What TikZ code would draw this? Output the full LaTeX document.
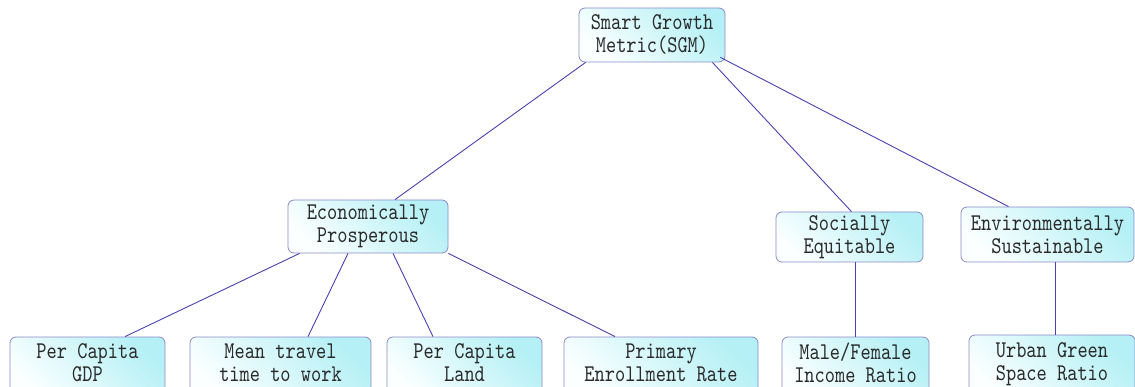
\documentclass[tikz,border=0pt]{standalone}
\usepackage{fontspec}
\newfontfamily\boxfont[FakeStretch=0.81]{lmmono10-regular.otf}
\usetikzlibrary{calc}
\definecolor{boxline}{HTML}{8A8AC8}
\definecolor{conn}{HTML}{4A42B0}
\definecolor{txt}{HTML}{2A2A2A}
\definecolor{cyanA}{HTML}{FBFFFF}
\definecolor{cyanB}{HTML}{B4F0F5}
\newcommand\lowstrut{\rule[-9pt]{0pt}{9pt}}
\tikzset{
  box/.style={draw=boxline, line width=0.8pt, rounded corners=6pt,
    top color=cyanA, bottom color=cyanB, shading angle=135,
    align=center, text=txt, inner sep=0pt,
    font=\boxfont\fontsize{24}{23}\selectfont},
  conn/.style={draw=conn, line width=0.9pt}
}
\begin{document}
\begin{tikzpicture}[x=1pt,y=-1pt]
\path[use as bounding box, clip] (0,0) rectangle (1135,387);
\fill[white] (0,0) rectangle (1135,387);
\node[box, minimum width=146pt, minimum height=54pt] (sgm) at (652,35) {Smart Growth\\Metric(SGM)};
\node[box, minimum width=160pt, minimum height=53pt] (econ) at (368,226.5) {Economically\\Prosperous};
\node[box, minimum width=147pt, minimum height=50pt] (soc) at (849.5,237) {Socially\\Equitable};
\node[box, minimum width=173pt, minimum height=55pt] (env) at (1047.5,234.5) {Environmentally\\Sustainable};
\node[box, minimum width=155pt, minimum height=60pt] (gdp) at (87.5,367) {Per Capita\\GDP\lowstrut};
\node[box, minimum width=181pt, minimum height=60pt] (mean) at (280.5,367) {Mean travel\\time to work\lowstrut};
\node[box, minimum width=155pt, minimum height=60pt] (land) at (464.5,367) {Per Capita\\Land\lowstrut};
\node[box, minimum width=194pt, minimum height=60pt] (prim) at (661,367) {Primary\\Enrollment Rate\lowstrut};
\node[box, minimum width=147pt, minimum height=60pt] (male) at (855.5,367) {Male/Female\\Income Ratio\lowstrut};
\node[box, minimum width=166pt, minimum height=62pt] (urban) at (1052,366) {Urban Green\\Space Ratio\lowstrut};
\draw[conn] ($(sgm.south west)+(7,0)$) -- ($(econ.north)+(27,0)$);
\draw[conn] ($(sgm.south east)+(-13,0)$) -- ($(soc.north)+(2,0)$);
\draw[conn] ($(sgm.south east)+(-5,-5)$) -- ($(env.north)+(-39,0)$);
\draw[conn] ($(econ.south west)+(12,0)$) -- ($(gdp.north)+(37.5,0)$);
\draw[conn] ($(econ.south)+(-20,0)$) -- ($(mean.north)+(27.5,0)$);
\draw[conn] ($(econ.south)+(25,0)$) -- ($(land.north)+(-31.5,0)$);
\draw[conn] ($(econ.south east)+(0,0)$) -- ($(prim.north)+(-46,0)$);
\draw[conn] ($(soc.south)+(6,0)$) -- (male.north);
\draw[conn] ($(env.south)+(7.5,0)$) -- ($(urban.north)+(3,0)$);
\end{tikzpicture}
\end{document}
